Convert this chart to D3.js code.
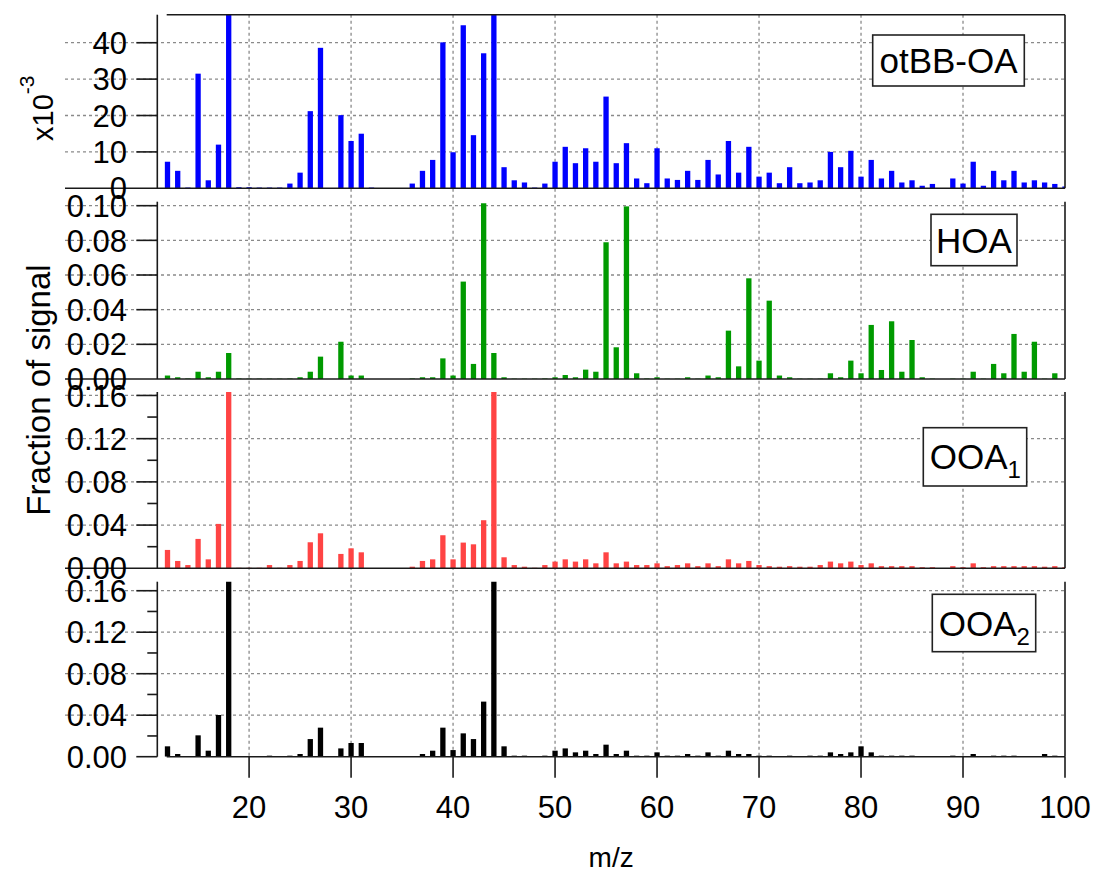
<!DOCTYPE html>
<html>
<head>
<meta charset="utf-8">
<script src="https://cdn.jsdelivr.net/npm/d3@7"></script>
<style>
  html, body { margin: 0; padding: 0; background: #fff; }
  svg { display: block; }
  text { font-family: "Liberation Sans", Arial, sans-serif; fill: #000; }
</style>
</head>
<body>
<svg id="chart" width="1096" height="873"></svg>
<script>
// ---------------- DATA ----------------
const mz = d3.range(12, 101); // m/z 12 .. 100

// otBB-OA, in units of x10^-3
const otbbOA = [7.3,4.8,0.2,31.5,2.2,12.0,55,0.3,0.3,0.2,0.2,0.2,1.3,4.3,21.2,38.6,0,20.1,13.0,15.0,
  0.2,0,0,0,1.3,4.8,7.8,40.1,9.9,44.8,14.6,37.1,60,5.8,2.2,1.6,0.2,1.3,7.3,11.4,
  6.9,11.0,7.3,25.2,6.9,12.4,2.7,1.4,11.0,2.7,2.3,4.8,2.3,7.8,3.8,13.0,4.3,11.4,3.2,4.3,
  1.4,5.8,1.4,1.6,2.2,10.0,5.8,10.3,3.2,7.8,2.7,4.8,1.6,2.2,0.7,1.2,0,2.7,1.3,7.3,
  0.7,4.8,2.2,4.8,1.6,2.2,1.6,1.2,0.5];

const hoa = [0.002,0.001,0.0003,0.0042,0.001,0.0042,0.015,0.0003,0.0002,0.0002,0.0002,0.0002,0.0003,0.001,0.0042,0.0129,0,0.0215,0.002,0.002,
  0,0,0,0,0.0003,0.001,0.001,0.0119,0.002,0.0562,0.0087,0.1014,0.015,0.001,0.0002,0.0002,0.0002,0.0003,0.001,0.0023,
  0.001,0.0054,0.0042,0.0789,0.0183,0.0996,0.0033,0.0003,0.001,0.0002,0.0002,0.001,0.0002,0.002,0.001,0.0279,0.0073,0.0581,0.0106,0.0452,
  0.002,0.001,0.0002,0.0002,0.0002,0.0033,0.001,0.0106,0.0033,0.0312,0.0052,0.0333,0.0042,0.0225,0.001,0.0002,0,0.0002,0.0002,0.0042,
  0.0002,0.0087,0.0033,0.026,0.0042,0.0215,0.0002,0.0033,0];

const ooa1 = [0.017,0.0068,0.003,0.0272,0.0083,0.0411,0.18,0.0005,0.0005,0.0005,0.003,0.0005,0.003,0.0068,0.0241,0.0324,0,0.0133,0.0185,0.0148,
  0,0,0,0,0.0015,0.0068,0.0083,0.0306,0.0083,0.0238,0.0222,0.0445,0.18,0.0102,0.003,0.0015,0.0005,0.003,0.0062,0.0083,
  0.0062,0.0083,0.0046,0.0148,0.0046,0.0062,0.003,0.003,0.0046,0.002,0.003,0.0046,0.002,0.0046,0.002,0.0083,0.0046,0.0068,0.003,0.002,
  0.0015,0.002,0.0015,0.0015,0.003,0.0062,0.0046,0.0062,0.003,0.0046,0.002,0.002,0.002,0.002,0.001,0.001,0,0.002,0.001,0.0046,
  0.001,0.002,0.002,0.002,0.002,0.002,0.0015,0.002,0.001];

const ooa2 = [0.010,0.0026,0,0.0206,0.0058,0.0402,0.18,0,0,0,0.001,0,0.001,0.0026,0.017,0.028,0,0.008,0.0132,0.0132,
  0,0,0,0,0,0.0026,0.0058,0.028,0.0064,0.0225,0.017,0.0531,0.18,0.01,0.001,0.001,0,0.001,0.0058,0.008,
  0.0042,0.0058,0.0026,0.0116,0.0026,0.0058,0.001,0.001,0.0042,0.001,0.001,0.0026,0.001,0.0042,0.001,0.0058,0.0026,0.0026,0.001,0.001,
  0,0.001,0,0.001,0.001,0.0042,0.0026,0.0042,0.01,0.0042,0.001,0.001,0.001,0.001,0,0,0,0.001,0,0.0026,
  0,0.001,0.001,0.001,0,0,0.0026,0.001,0];

const xTicks = [20,30,40,50,60,70,80,90,100];
const otbbTicks = [0,10,20,30,40];
const hoaTicks = [0,0.02,0.04,0.06,0.08,0.10];
const ooaTicks = [0,0.04,0.08,0.12,0.16];
const ooaMinorTicks = [0.02,0.06,0.10,0.14];
const seriesNames = ["otBB-OA","HOA","OOA","OOA"];
const seriesSubs = ["","","1","2"];
const seriesColors = ["#0000ff","#009a00","#ff4444","#000000"];

// ---------------- LAYOUT ----------------
const svg = d3.select("#chart");
const xLeft = 157.3, xRight = 1065, gridLeft = 65;
const x = d3.scaleLinear().domain([11, 100]).range([xLeft, xRight]);
const barHalf = 0.26;

const panels = [
  {values: otbbOA, top: 14.7, bottom: 188.3, ymax: 47.7, ticks: otbbTicks, minor: [], fmt: d3.format("d"),
   legend: {x0: 872.7, x1: 1024.3, y0: 35, y1: 86}},
  {values: hoa, top: 201.7, bottom: 379, ymax: 0.1023, ticks: hoaTicks, minor: [], fmt: d3.format(".2f"),
   legend: {x0: 931, x1: 1017, y0: 214.3, y1: 265.7}},
  {values: ooa1, top: 392, bottom: 568.3, ymax: 0.1632, ticks: ooaTicks, minor: ooaMinorTicks, fmt: d3.format(".2f"),
   legend: {x0: 923.3, x1: 1026.7, y0: 427.7, y1: 486}},
  {values: ooa2, top: 581.7, bottom: 756.7, ymax: 0.1687, ticks: ooaTicks, minor: ooaMinorTicks, fmt: d3.format(".2f"),
   legend: {x0: 932.3, x1: 1035.7, y0: 594.3, y1: 651.7}}
];

const gridColor = "#8a8a8a";
const axisColor = "#1a1a1a";
const defs = svg.append("defs");

// vertical grid lines across all panels
const gTop = panels[0].top, gBot = panels[3].bottom;
svg.append("g").selectAll("line").data(xTicks.filter(t => t < 100)).join("line")
  .attr("x1", d => x(d)).attr("x2", d => x(d))
  .attr("y1", gTop).attr("y2", gBot)
  .attr("stroke", gridColor).attr("stroke-width", 1.3).attr("stroke-dasharray", "3,3");

panels.forEach((p, i) => {
  const y = d3.scaleLinear().domain([0, p.ymax]).range([p.bottom, p.top]);
  const g = svg.append("g");

  // horizontal grid lines
  g.append("g").selectAll("line").data(p.ticks.filter(t => t > 0)).join("line")
    .attr("x1", gridLeft).attr("x2", xRight)
    .attr("y1", d => y(d)).attr("y2", d => y(d))
    .attr("stroke", gridColor).attr("stroke-width", 1.3).attr("stroke-dasharray", "3,3");

  // bars (clipped to the panel)
  const cid = "clip" + i;
  defs.append("clipPath").attr("id", cid).append("rect")
    .attr("x", xLeft).attr("y", p.top).attr("width", xRight - xLeft).attr("height", p.bottom - p.top);
  g.append("g").attr("clip-path", `url(#${cid})`)
    .selectAll("rect").data(mz.map((m, k) => ({m, v: p.values[k]}))).join("rect")
    .attr("x", d => x(d.m - barHalf))
    .attr("width", d => x(d.m + barHalf) - x(d.m - barHalf))
    .attr("y", d => y(d.v))
    .attr("height", d => Math.max(0, y(0) - y(d.v)))
    .attr("fill", seriesColors[i]);

  // left axis line
  g.append("line").attr("x1", xLeft).attr("x2", xLeft).attr("y1", p.top).attr("y2", p.bottom)
    .attr("stroke", axisColor).attr("stroke-width", 1.6);
  // right frame
  g.append("line").attr("x1", xRight).attr("x2", xRight).attr("y1", p.top).attr("y2", p.bottom)
    .attr("stroke", axisColor).attr("stroke-width", 1.6);

  // baseline
  if (i < 3) {
    g.append("line").attr("x1", gridLeft).attr("x2", xRight).attr("y1", y(0)).attr("y2", y(0))
      .attr("stroke", axisColor).attr("stroke-width", 1.6);
  } else {
    g.append("line").attr("x1", 166.7).attr("x2", xRight).attr("y1", y(0)).attr("y2", y(0))
      .attr("stroke", axisColor).attr("stroke-width", 1.6);
  }

  // major ticks
  g.append("g").selectAll("line").data(p.ticks.filter(t => i === 3 || t > 0)).join("line")
    .attr("x1", xLeft - 21).attr("x2", xLeft)
    .attr("y1", d => y(d)).attr("y2", d => y(d))
    .attr("stroke", axisColor).attr("stroke-width", 1.6);
  // minor ticks
  g.append("g").selectAll("line").data(p.minor).join("line")
    .attr("x1", xLeft - 10).attr("x2", xLeft)
    .attr("y1", d => y(d)).attr("y2", d => y(d))
    .attr("stroke", axisColor).attr("stroke-width", 1.6);

  // tick labels
  g.append("g").selectAll("text").data(p.ticks).join("text")
    .attr("x", 127).attr("y", d => y(d)).attr("dy", "0.36em")
    .attr("text-anchor", "end").attr("font-size", 31)
    .text(d => p.fmt(d));

  // legend box
  const L = p.legend;
  g.append("rect").attr("x", L.x0).attr("y", L.y0).attr("width", L.x1 - L.x0).attr("height", L.y1 - L.y0)
    .attr("fill", "#fff").attr("stroke", "#222").attr("stroke-width", 1.6);
  const t = g.append("text").attr("font-size", 35);
  if (seriesSubs[i]) {
    t.attr("x", L.x0 + 6.5).attr("y", (L.y0 + L.y1) / 2 + 12.5).attr("text-anchor", "start");
    t.append("tspan").text(seriesNames[i]);
    t.append("tspan").attr("font-size", 24).attr("dy", 9).text(seriesSubs[i]);
  } else {
    t.attr("x", (L.x0 + L.x1) / 2).attr("y", (L.y0 + L.y1) / 2 + 12.5).attr("text-anchor", "middle")
      .text(seriesNames[i]);
  }
});

// top frame of the top panel
svg.append("line").attr("x1", 166.7).attr("x2", xRight).attr("y1", panels[0].top).attr("y2", panels[0].top)
  .attr("stroke", axisColor).attr("stroke-width", 1.6);

// x-axis ticks and labels (bottom panel)
const xb = panels[3].bottom;
svg.append("g").selectAll("line").data(xTicks).join("line")
  .attr("x1", d => x(d)).attr("x2", d => x(d)).attr("y1", xb).attr("y2", xb + 21)
  .attr("stroke", axisColor).attr("stroke-width", 1.6);
svg.append("g").selectAll("text").data(xTicks).join("text")
  .attr("x", d => x(d)).attr("y", 818).attr("text-anchor", "middle").attr("font-size", 31)
  .text(d => d);

// axis titles
svg.append("text").attr("x", (xLeft + xRight) / 2).attr("y", 867).attr("text-anchor", "middle")
  .attr("font-size", 28).text("m/z");
svg.append("text").attr("transform", "translate(50,390) rotate(-90)").attr("text-anchor", "middle")
  .attr("font-size", 33).text("Fraction of signal");
const sc = svg.append("text").attr("transform", "translate(53,141) rotate(-90)").attr("text-anchor", "start")
  .attr("font-size", 29);
sc.append("tspan").text("x10");
sc.append("tspan").attr("font-size", 21).attr("dy", -19).text("-3");
</script>
</body>
</html>
